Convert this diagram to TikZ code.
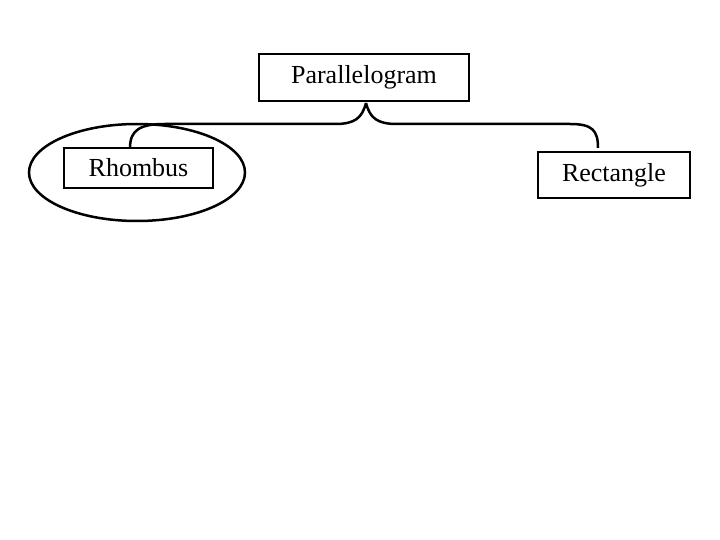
\documentclass[tikz,border=0pt]{standalone}
\usepackage{fontspec}
\usetikzlibrary{shapes.geometric}
\setmainfont{Liberation Serif}
\begin{document}
\begin{tikzpicture}[x=1pt,y=1pt,line width=2.5pt,
  lbl/.style={draw,inner sep=0pt,font=\fontsize{26}{30}\selectfont}]
\useasboundingbox (0,0) rectangle (720,-540);
\node[lbl,minimum width=210,minimum height=47] (p) at (364,-77.5) {Parallelogram};
\node[lbl,minimum width=149,minimum height=40] (rh) at (138.5,-168) {Rhombus};
\node[lbl,minimum width=152,minimum height=46] (re) at (614,-175) {Rectangle};
\node[draw,ellipse,minimum width=216,minimum height=97,inner sep=0pt] (el) at (137,-172.5) {};
\coordinate (tip) at (366,-103);
\coordinate (lb) at (130,-148);
\coordinate (rb) at (598,-148);
\draw (lb) .. controls (130,-130) and (140,-124) .. (165,-124) -- (335,-124)
  .. controls (355,-124) and (362,-118) .. (tip);
\draw (tip) .. controls (370,-118) and (377,-124) .. (397,-124) -- (570,-124)
  .. controls (592,-124) and (598,-130) .. (rb);
\end{tikzpicture}
\end{document}
